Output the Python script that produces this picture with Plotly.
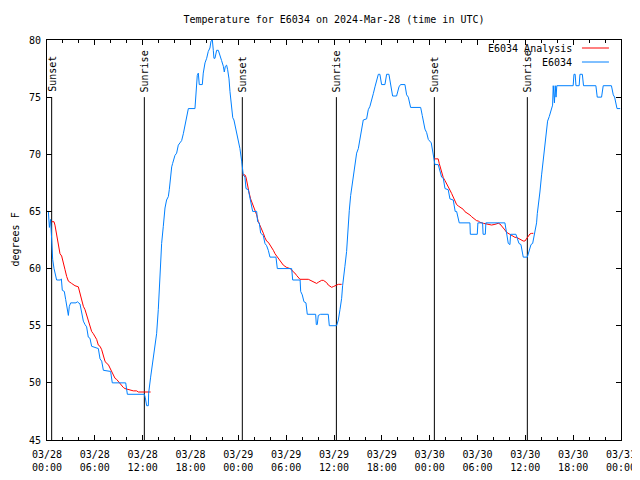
import plotly.graph_objects as go
import pandas as pd

START = pd.Timestamp("2024-03-28 00:00")

# Observed E6034 temperatures (hours since start, degrees F)
obs_hours = [0.0, 0.17, 0.3, 0.45, 0.59, 0.71, 0.88, 1.21, 1.71, 1.8, 1.92, 2.17, 2.34, 2.47, 2.68, 2.8, 2.97, 3.64, 3.8, 4.14,
             4.35, 4.56, 4.77, 4.97, 5.18, 5.39, 5.6, 6.44, 6.65, 6.86, 7.07, 7.98, 8.19, 9.87, 10.08, 12.21, 12.33, 12.5, 12.71, 12.75,
             13.0, 13.21, 13.42, 13.63, 13.75, 13.96, 14.09, 14.26, 14.38, 14.59, 14.72, 14.8, 15.0, 15.22, 15.34, 15.43, 15.5, 15.64, 15.76, 15.93,
             16.05, 16.26, 16.47, 16.68, 16.89, 17.1, 17.3, 17.52, 17.73, 18.56, 18.69, 18.85, 18.98, 19.1, 19.48, 19.6, 19.82, 20.03, 20.23, 20.44,
             20.57, 20.74, 20.86, 20.94, 21.07, 21.15, 21.28, 21.49, 21.7, 21.9, 22.12, 22.24, 22.37, 22.53, 22.66, 22.83, 22.95, 23.16, 23.3, 23.45,
             23.58, 23.79, 24.0, 24.2, 24.42, 24.5, 24.62, 24.83, 24.96, 25.25, 25.46, 25.67, 25.8, 26.3, 26.42, 26.63, 26.8, 27.13, 27.34, 27.55,
             27.76, 27.97, 28.72, 28.89, 30.69, 30.82, 31.75, 31.82, 32.02, 32.23, 32.48, 32.65, 33.7, 33.78, 33.9, 34.03, 34.32, 35.28, 35.41, 36.33,
             36.54, 36.75, 36.96, 37.08, 37.25, 37.37, 37.58, 37.71, 37.79, 37.92, 38.09, 38.21, 38.42, 38.63, 38.84, 39.05, 39.26, 39.46, 39.67, 40.09,
             40.3, 40.51, 40.72, 40.93, 41.14, 41.35, 41.56, 41.76, 41.97, 42.39, 42.6, 42.89, 43.1, 43.35, 43.85, 44.15, 44.35, 44.9, 45.11, 45.32,
             45.61, 46.87, 47.07, 47.2, 47.41, 47.62, 47.83, 48.2, 48.45, 48.66, 49.07, 49.29, 49.5, 49.71, 49.92, 50.33, 50.54, 50.96, 51.09, 51.2,
             51.38, 51.59, 51.71, 53.05, 53.1, 53.97, 54.05, 54.64, 54.7, 54.98, 55.05, 57.44, 57.65, 57.86, 58.07, 58.15, 58.82, 59.03, 59.2, 59.45,
             59.62, 59.74, 60.25, 60.5, 60.71, 60.92, 61.08, 61.2, 61.41, 61.5, 61.62, 61.75, 61.83, 62.04, 62.25, 62.37, 62.58, 62.79, 63.0, 63.21,
             63.42, 63.5, 63.65, 63.75, 63.85, 63.95, 66.0, 66.1, 66.25, 66.35, 66.75, 66.85, 67.15, 67.3, 68.85, 69.02, 69.56, 69.77, 70.8, 71.03,
             71.2, 71.5, 71.9]
obs_temps = [65.0, 65.0, 63.6, 64.3, 62.5, 60.8, 60.0, 59.0, 59.0, 59.1, 58.1, 58.0, 57.3, 56.7, 55.9, 56.7, 57.0, 57.0, 57.1, 56.9,
             56.2, 55.4, 55.1, 54.9, 54.0, 53.9, 53.2, 53.0, 52.1, 51.9, 51.1, 51.0, 50.0, 50.0, 49.0, 49.0, 48.7, 48.0, 48.0, 49.1,
             50.5, 51.7, 52.7, 53.8, 54.3, 56.4, 58.7, 60.8, 62.2, 63.7, 64.8, 65.3, 66.0, 66.3, 66.9, 67.6, 68.2, 68.9, 69.2, 69.6,
             69.9, 70.1, 70.8, 71.0, 71.2, 71.8, 72.6, 73.4, 74.0, 74.0, 75.2, 76.9, 77.1, 76.1, 76.1, 77.1, 78.0, 78.4, 79.0, 79.3,
             79.9, 80.0, 79.1, 78.4, 78.4, 78.7, 79.1, 79.1, 78.7, 78.2, 77.7, 77.2, 77.7, 77.8, 77.4, 76.6, 75.5, 74.0, 73.2, 73.0,
             72.6, 71.8, 71.1, 70.5, 69.4, 68.8, 68.2, 68.0, 67.0, 66.9, 66.1, 65.6, 65.0, 65.0, 64.1, 64.0, 63.1, 62.9, 62.2, 62.0,
             61.6, 61.0, 61.0, 60.0, 60.0, 59.0, 59.0, 58.0, 57.7, 57.1, 57.0, 56.0, 56.0, 55.1, 55.1, 55.9, 56.0, 56.0, 55.0, 55.0,
             55.5, 56.4, 57.4, 58.5, 59.3, 60.2, 61.5, 63.1, 64.3, 65.1, 66.4, 67.0, 68.2, 69.4, 70.1, 70.5, 71.4, 72.4, 73.0, 73.1,
             73.9, 74.2, 74.9, 75.3, 75.9, 76.4, 77.0, 77.0, 76.1, 76.1, 77.0, 77.0, 76.1, 75.1, 75.1, 75.9, 76.1, 76.1, 75.2, 75.0,
             74.1, 74.1, 73.4, 72.9, 72.2, 71.9, 71.3, 71.0, 70.1, 69.1, 69.1, 68.5, 68.0, 67.9, 67.0, 66.9, 66.1, 66.0, 65.4, 65.0,
             65.0, 64.4, 64.0, 64.0, 63.0, 63.0, 64.0, 64.0, 63.0, 63.0, 64.0, 64.0, 63.2, 62.2, 62.1, 63.0, 63.0, 62.5, 62.2, 62.1,
             61.3, 61.0, 61.0, 61.6, 62.1, 62.2, 62.8, 63.2, 64.0, 64.8, 65.4, 66.0, 66.7, 68.2, 69.5, 70.5, 71.7, 72.9, 73.3, 73.9,
             74.3, 76.0, 74.5, 76.0, 75.0, 76.0, 76.0, 77.0, 77.0, 76.0, 76.0, 77.0, 77.0, 76.0, 76.0, 75.0, 75.0, 76.0, 76.0, 75.2,
             75.0, 74.0, 74.0]

# E6034 Analysis, three overnight segments
an1_hours = [0.59, 0.88, 1.0, 1.21, 1.42, 1.63, 1.84, 2.05, 2.26, 2.47, 2.68, 3.09, 3.51, 3.93, 4.14, 4.35, 4.56, 4.77, 4.97, 5.18,
             5.39, 5.6, 5.81, 6.02, 6.23, 6.44, 6.65, 6.86, 7.07, 7.27, 7.48, 7.69, 7.9, 8.11, 8.32, 8.53, 8.74, 8.95, 9.16, 9.36,
             9.57, 9.78, 10.2, 10.83, 11.25, 11.45, 13.0]
an1_temps = [64.1, 64.1, 63.8, 62.9, 62.2, 61.3, 61.1, 60.6, 59.9, 59.3, 58.9, 58.7, 58.5, 58.4, 57.8, 57.3, 56.7, 56.4, 55.9, 55.4,
             54.9, 54.5, 54.3, 54.0, 53.8, 53.3, 53.2, 52.9, 52.3, 51.9, 51.7, 51.6, 51.3, 51.0, 50.7, 50.4, 50.3, 50.1, 50.0, 49.8,
             49.6, 49.5, 49.4, 49.3, 49.3, 49.2, 49.2]
an2_hours = [24.5, 24.83, 24.96, 25.13, 25.33, 25.54, 25.8, 26.09, 26.3, 26.51, 26.71, 26.92, 27.13, 27.34, 27.55, 27.76, 27.97, 28.18, 28.39, 28.6,
             28.8, 29.01, 29.22, 29.43, 29.64, 29.85, 30.06, 30.48, 30.69, 30.9, 31.1, 31.31, 31.52, 31.73, 32.78, 32.99, 33.19, 33.4, 33.61, 33.82,
             34.03, 34.24, 34.45, 34.66, 34.87, 35.08, 35.28, 35.49, 35.7, 35.91, 36.12, 36.33, 36.54, 36.96]
an2_temps = [68.2, 68.2, 68.0, 67.3, 66.7, 66.1, 65.6, 65.2, 64.7, 64.1, 63.8, 63.5, 63.1, 62.7, 62.4, 62.3, 62.1, 61.8, 61.6, 61.3,
             61.1, 60.9, 60.7, 60.5, 60.3, 60.2, 60.1, 60.0, 59.9, 59.7, 59.6, 59.4, 59.2, 59.06, 59.06, 59.0, 58.9, 58.86, 58.77, 58.7,
             58.8, 58.9, 58.97, 58.97, 58.9, 58.77, 58.56, 58.42, 58.36, 58.42, 58.48, 58.56, 58.62, 58.62]
an3_hours = [48.6, 49.07, 49.2, 49.37, 49.5, 49.71, 49.92, 50.13, 50.33, 50.54, 50.75, 50.96, 51.17, 51.38, 51.59, 51.8, 52.01, 52.22, 52.42, 52.63,
             52.84, 53.05, 53.26, 53.47, 53.68, 53.89, 54.1, 54.31, 54.73, 55.14, 55.35, 55.77, 56.19, 56.61, 56.82, 57.02, 57.23, 57.44, 57.65, 57.86,
             58.07, 58.28, 58.49, 58.7, 58.9, 59.11, 59.32, 59.53, 59.74, 59.95, 60.16, 60.37, 60.58, 60.79, 61.0]
an3_temps = [69.6, 69.6, 69.2, 68.8, 68.3, 67.95, 67.7, 67.45, 67.16, 66.87, 66.58, 66.29, 66.0, 65.6, 65.48, 65.36, 65.27, 65.18, 64.98, 64.89,
             64.83, 64.69, 64.54, 64.4, 64.25, 64.19, 64.16, 64.05, 63.96, 63.9, 63.81, 63.81, 63.87, 63.96, 63.9, 63.75, 63.52, 63.38, 63.17, 63.08,
             62.94, 62.85, 62.79, 62.73, 62.73, 62.65, 62.59, 62.5, 62.41, 62.41, 62.65, 62.79, 63.03, 63.08, 63.08]

sun_hours = [0.585, 12.21, 24.5, 36.3, 48.59, 60.25]
sun_labels = ["Sunset", "Sunrise", "Sunset", "Sunrise", "Sunset", "Sunrise"]
sun_line_top = 75

tick_hours = [0, 6, 12, 18, 24, 30, 36, 42, 48, 54, 60, 66, 72]
tick_labels = ["03/28<br>00:00", "03/28<br>06:00", "03/28<br>12:00", "03/28<br>18:00",
               "03/29<br>00:00", "03/29<br>06:00", "03/29<br>12:00", "03/29<br>18:00",
               "03/30<br>00:00", "03/30<br>06:00", "03/30<br>12:00", "03/30<br>18:00",
               "03/31<br>00:00"]
y_ticks = [45, 50, 55, 60, 65, 70, 75, 80]

BLUE = "#0080ff"
RED = "#ff0000"
FONT = "DejaVu Sans Mono"
W, H = 632, 472  # page body has an 8px margin


def to_time(hours):
    return [START + pd.Timedelta(hours=h) for h in hours]


fig = go.Figure()

# sunrise / sunset markers
sx, sy = [], []
for h in sun_hours:
    t = START + pd.Timedelta(hours=h)
    sx += [t, t, None]
    sy += [y_ticks[0], sun_line_top, None]
fig.add_trace(go.Scatter(x=sx, y=sy, mode="lines", line=dict(color="black", width=1),
                         showlegend=False, hoverinfo="skip"))

# analysis (red)
ax, ay = [], []
for hs, ts in [(an1_hours, an1_temps), (an2_hours, an2_temps), (an3_hours, an3_temps)]:
    ax += to_time(hs) + [None]
    ay += ts + [None]
fig.add_trace(go.Scatter(x=ax, y=ay, mode="lines", name="E6034 Analysis",
                         line=dict(color=RED, width=1), showlegend=False))

# observations (blue)
fig.add_trace(go.Scatter(x=to_time(obs_hours), y=obs_temps, mode="lines", name="E6034",
                         line=dict(color=BLUE, width=1), showlegend=False))

for h, lab in zip(sun_hours, sun_labels):
    fig.add_annotation(x=START + pd.Timedelta(hours=h), y=sun_line_top, text=lab, textangle=-90,
                       showarrow=False, xanchor="center", yanchor="bottom", yshift=3,
                       font=dict(family=FONT, size=10, color="black"))

# manual gnuplot-style legend (text then sample line)
legend_items = [("E6034 Analysis", RED), ("E6034", BLUE)]
for i, (name, col) in enumerate(legend_items):
    yy = 0.98 - i * 0.035
    fig.add_annotation(xref="paper", yref="paper", x=0.918, y=yy, text=name, showarrow=False,
                       xanchor="right", yanchor="middle", font=dict(family=FONT, size=10, color="black"))
    fig.add_shape(type="line", xref="paper", yref="paper", x0=0.932, x1=0.979, y0=yy, y1=yy,
                  line=dict(color=col, width=1))

# y-axis title
fig.add_annotation(xref="paper", yref="paper", x=0, y=0.5, xshift=-39, text="degrees F", textangle=-90,
                   showarrow=False, xanchor="left", yanchor="middle", borderpad=0,
                   font=dict(family=FONT, size=10, color="black"))

fig.update_layout(
    width=W, height=H,
    margin=dict(l=39, r=19, t=32, b=40, autoexpand=False),
    paper_bgcolor="white", plot_bgcolor="white",
    font=dict(family=FONT, size=10, color="black"),
    title=dict(text="Temperature for E6034 on 2024-Mar-28 (time in UTC)", x=0.5, xref="paper",
               y=1 - 11 / H, yref="container", yanchor="middle", xanchor="center",
               font=dict(family=FONT, size=10, color="black")),
    showlegend=False,
)
fig.update_xaxes(
    range=[START, START + pd.Timedelta(hours=72)], automargin=False,
    tickmode="array", tickvals=to_time(tick_hours), ticktext=tick_labels,
    ticks="inside", ticklen=5, tickcolor="black", showgrid=False, zeroline=False,
    showline=True, linecolor="black", linewidth=1, mirror="ticks", ticklabelstandoff=5,
    minor=dict(dtick=2 * 3600 * 1000, tick0=START, ticks="inside", ticklen=3, tickcolor="black", showgrid=False),
    tickfont=dict(family=FONT, size=10, color="black"),
)
fig.update_yaxes(
    range=[45, 80], tickmode="array", tickvals=y_ticks, automargin=False,
    ticks="inside", ticklen=5, tickcolor="black", showgrid=False, zeroline=False,
    showline=True, linecolor="black", linewidth=1, mirror="ticks", ticklabelstandoff=3,
    tickfont=dict(family=FONT, size=10, color="black"),
)

fig.write_html("out.html")
